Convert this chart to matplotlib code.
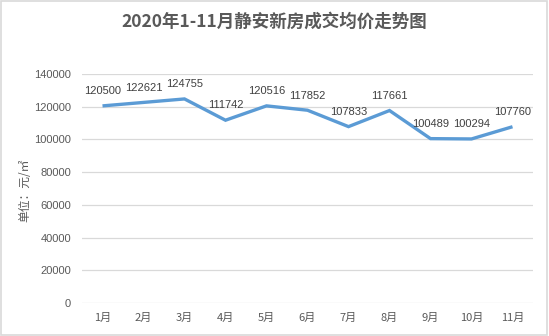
import matplotlib
matplotlib.use('Agg')
import matplotlib.pyplot as plt
from matplotlib.patches import Rectangle

# 静安新房成交均价（元/㎡）
months = ['1月', '2月', '3月', '4月', '5月', '6月', '7月', '8月', '9月', '10月', '11月']
prices = [120500, 122621, 124755, 111742, 120516, 117852, 107833, 117661, 100489, 100294, 107760]
y_ticks = [0, 20000, 40000, 60000, 80000, 100000, 120000, 140000]

FONTS = ['Liberation Sans', 'Noto Sans CJK SC', 'DejaVu Sans']
CJK = ['Noto Sans CJK SC', 'DejaVu Sans']
plt.rcParams['font.family'] = FONTS

LINE_COLOR = '#5B9BD5'
TEXT_GRAY = '#595959'
GRID_GRAY = '#D9D9D9'

fig = plt.figure(figsize=(5.49, 3.36), dpi=100)
ax = fig.add_axes([82 / 549, 1 - 303 / 336, (533 - 82) / 549, (303 - 74) / 336])

x = list(range(len(months)))
ax.plot(x, prices, color=LINE_COLOR, linewidth=2.4, solid_joinstyle='miter',
        solid_capstyle='butt', zorder=3)

# 数据标签
for xi, v in zip(x, prices):
    ax.annotate(str(v), (xi, v), xytext=(0, 7), textcoords='offset points',
                ha='center', va='bottom', fontsize=8, color='#404040')

ax.set_xlim(-0.5, len(months) - 0.5)
ax.set_ylim(0, 140000)
ax.set_yticks(y_ticks)
ax.set_yticklabels([str(t) for t in y_ticks])
ax.set_xticks(x)
ax.set_xticklabels(months, family=CJK, fontsize=8)
ax.tick_params(axis='both', length=0, labelsize=8, colors=TEXT_GRAY)
ax.tick_params(axis='x', pad=7)
ax.tick_params(axis='y', pad=8)
ax.grid(axis='y', color=GRID_GRAY, linewidth=0.9)
ax.set_axisbelow(True)
for s in ax.spines.values():
    s.set_visible(False)

fig.text(25 / 549, 1 - 190 / 336, '单位：元/㎡', rotation=90, ha='center', va='center',
         fontsize=8.5, color=TEXT_GRAY, family=CJK)

fig.text(0.5, 1 - 22 / 336, '2020年1-11月静安新房成交均价走势图', ha='center', va='center',
         fontsize=12.6, fontweight='bold', color=TEXT_GRAY, family=CJK)

# 外边框
fig.patches.append(Rectangle((0.002, 0.003), 0.995, 0.994, transform=fig.transFigure,
                             fill=False, edgecolor=GRID_GRAY, linewidth=1.2))

fig.savefig('out.png', dpi=100)
